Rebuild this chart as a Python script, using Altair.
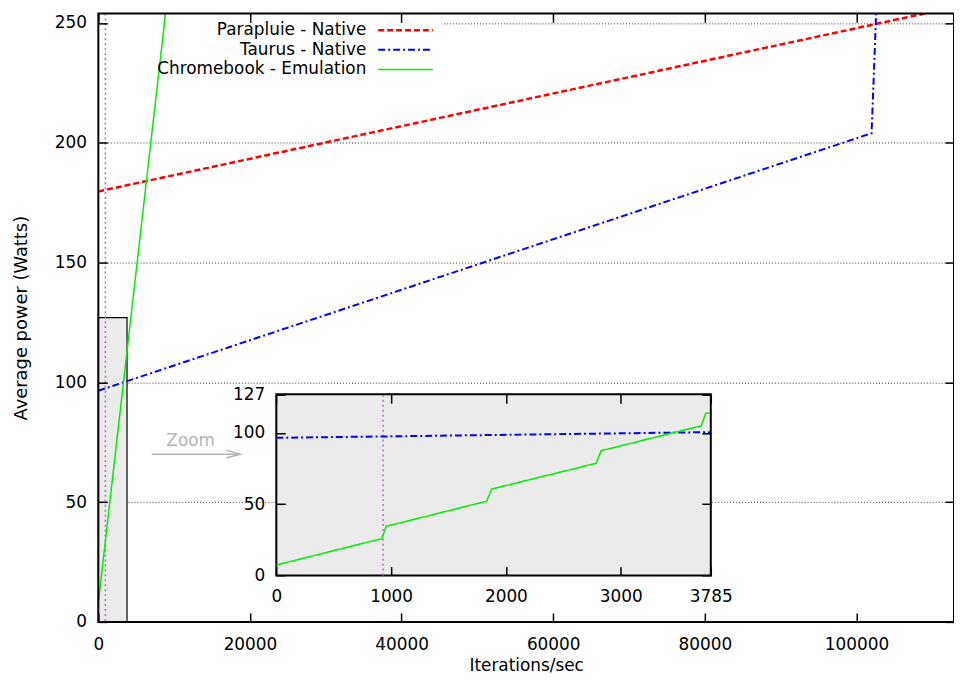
import altair as alt
import pandas as pd

# ---------------- data ----------------
series_names = ["Parapluie - Native", "Taurus - Native", "Chromebook - Emulation"]

parapluie_x = [0, 112870]
parapluie_y = [179.7, 256.6]

taurus_x = [0, 3785, 102000, 102650]
taurus_y = [96.5, 100.5, 204.0, 258.0]

# Chromebook as it appears in the full view (overall trend) ...
chromebook_x = [0, 9280]
chromebook_y = [8.0, 265.5]
# ... and in detail inside the zoomed window
chromebook_zoom_x = [0, 920, 957, 1833, 1876, 2787, 2830, 3701, 3741, 3773]
chromebook_zoom_y = [7.4, 25.9, 34.5, 52.1, 60.6, 78.7, 87.5, 104.9, 113.7, 113.9]

threshold_x = 930            # dotted vertical marker

x_max, y_max = 112870, 254   # main axes ranges
zoom_x_max, zoom_y_max = 3785, 127   # zoomed region

x_ticks = [0, 20000, 40000, 60000, 80000, 100000]
y_ticks = [0, 50, 100, 150, 200, 250]
inset_x_ticks = [0, 1000, 2000, 3000, 3785]
inset_y_ticks = [0, 50, 100, 127]

# annotation anchors (data units of the main axes)
zoom_label = {"x": 12177, "y": 75.6, "text": "Zoom"}
arrow_shaft_x = [7031, 18723]
arrow_shaft_y = [70.0, 70.0]
arrow_head_x = [16890, 18723, 16890]
arrow_head_y = [71.7, 70.0, 68.4]
key_backdrop = {"x": 0, "x2": 45300, "y": 240, "y2": y_max}

# ---------------- styles / layout ----------------
FONT = "DejaVu Sans"
series_colors = ["#ff0000", "#0000ff", "#00ee00"]
series_dash = [[6, 3], [7, 3, 2, 3], [1, 0]]
series_width = [2.5, 1.5, 1.5]
W, H = 862, 613
INSET_L, INSET_R, INSET_T, INSET_B = 179.3, 617.0, 383.7, 566.3
TICK = 9


def px(v):
    """pixel value that may be negative, passed as an expression"""
    return {"expr": str(round(v, 2))}


def long_table(xs_list, ys_list):
    rows = []
    for name, xs, ys in zip(series_names, xs_list, ys_list):
        for i, (x, y) in enumerate(zip(xs, ys)):
            rows.append({"series": name, "x": x, "y": y, "i": i})
    return pd.DataFrame(rows)


main_df = long_table([parapluie_x, taurus_x, chromebook_x], [parapluie_y, taurus_y, chromebook_y])
zoom_df = long_table([parapluie_x, taurus_x, chromebook_zoom_x], [parapluie_y, taurus_y, chromebook_zoom_y])

zoom_box_df = pd.DataFrame([{"x": 0, "x2": zoom_x_max, "y": 0, "y2": zoom_y_max}])
backdrop_df = pd.DataFrame([key_backdrop])
frame_df = pd.DataFrame([{"x": 0, "x2": x_max, "y": 0, "y2": y_max}])
vline_df = pd.DataFrame([{"x": threshold_x, "y": 0, "y2": zoom_y_max}])
label_df = pd.DataFrame([zoom_label])
arrow_df = pd.DataFrame(
    [{"part": "shaft", "x": x, "y": y, "i": k} for k, (x, y) in enumerate(zip(arrow_shaft_x, arrow_shaft_y))]
    + [{"part": "head", "x": x, "y": y, "i": k} for k, (x, y) in enumerate(zip(arrow_head_x, arrow_head_y))]
)

mx = alt.Scale(domain=[0, x_max], nice=False, zero=False)
my = alt.Scale(domain=[0, y_max], nice=False, zero=False)
ix = alt.Scale(domain=[0, zoom_x_max], range=[INSET_L, INSET_R], nice=False, zero=False)
iy = alt.Scale(domain=[0, zoom_y_max], range=[INSET_B, INSET_T], nice=False, zero=False)


def ax(**kw):
    base = dict(tickSize=TICK, tickWidth=1.5, tickColor="black", domain=False,
                labelFont=FONT, labelFontSize=17, labelColor="black",
                labelFlush=False, labelOverlap=False, grid=False, zindex=1)
    base.update(kw)
    return alt.Axis(**base)


legend = alt.Legend(title=None, orient="none", legendX=301, legendY=8.5,
                    direction="vertical", labelAlign="right", labelOffset=px(-48),
                    symbolType="M-5,0L5,0", symbolSize=121, labelFont=FONT,
                    labelFontSize=17, labelColor="black", labelLimit=0,
                    rowPadding=1.7, padding=0)


def series_enc():
    return dict(
        color=alt.Color("series:N", scale=alt.Scale(domain=series_names, range=series_colors), legend=legend),
        strokeDash=alt.StrokeDash("series:N", scale=alt.Scale(domain=series_names, range=series_dash), legend=legend),
        strokeWidth=alt.StrokeWidth("series:N", scale=alt.Scale(domain=series_names, range=series_width), legend=legend),
        order="i:Q",
    )


# ---------------- main panel ----------------
backdrop = alt.Chart(backdrop_df).mark_rect(fill="white", strokeWidth=0).encode(
    x=alt.X("x:Q", scale=mx, axis=ax(orient="bottom", offset=px(-TICK), values=x_ticks, format="d",
                                     labelPadding=15, title="Iterations/sec", titleFont=FONT,
                                     titleFontSize=17, titleFontWeight="normal", titleColor="black",
                                     titlePadding=5)),
    x2="x2:Q",
    y=alt.Y("y:Q", scale=my, axis=ax(orient="left", offset=px(-TICK), values=y_ticks, format="d",
                                     labelPadding=12, title="Average power (Watts)", titleFont=FONT,
                                     titleFontSize=18, titleFontWeight="normal", titleColor="black",
                                     titlePadding=24)),
    y2="y2:Q",
)

zoom_box = alt.Chart(zoom_box_df).mark_rect(fill="#ebebeb", stroke="black", strokeWidth=1.2).encode(
    x=alt.X("x:Q", scale=mx, axis=ax(orient="top", offset=px(-TICK), values=x_ticks, labels=False, title=None)),
    x2="x2:Q",
    y=alt.Y("y:Q", scale=my, axis=ax(orient="right", offset=px(-TICK), values=y_ticks, labels=False, title=None,
                                     grid=True, gridDash=[1, 2], gridColor="#333333", gridWidth=1, zindex=0)),
    y2="y2:Q",
)

main_vline = alt.Chart(vline_df).mark_rule(color="#b86cc4", strokeDash=[2, 3], strokeWidth=1.5).encode(
    x=alt.X("x:Q", scale=mx, axis=None),
)

main_lines = alt.Chart(main_df).mark_line(clip=True).encode(
    x=alt.X("x:Q", scale=mx, axis=None),
    y=alt.Y("y:Q", scale=my, axis=None),
    **series_enc(),
)

zoom_text = alt.Chart(label_df).mark_text(font=FONT, fontSize=17, color="#b4b4b4",
                                          align="center", baseline="middle").encode(
    x=alt.X("x:Q", scale=mx, axis=None),
    y=alt.Y("y:Q", scale=my, axis=None),
    text="text:N",
)

zoom_arrow = alt.Chart(arrow_df).mark_line(color="#b4b4b4", strokeWidth=1.5).encode(
    x=alt.X("x:Q", scale=mx, axis=None),
    y=alt.Y("y:Q", scale=my, axis=None),
    detail="part:N",
    order="i:Q",
)

frame = alt.Chart(frame_df).mark_rect(fillOpacity=0, stroke="black", strokeWidth=2).encode(
    x=alt.X("x:Q", scale=mx, axis=None), x2="x2:Q",
    y=alt.Y("y:Q", scale=my, axis=None), y2="y2:Q",
)

main = alt.layer(backdrop, zoom_box, main_vline, main_lines, zoom_text, zoom_arrow, frame)

# ---------------- inset panel ----------------
inset_box = alt.Chart(zoom_box_df).mark_rect(fill="#ebebeb", stroke="black", strokeWidth=2).encode(
    x=alt.X("x:Q", scale=ix, axis=ax(orient="bottom", offset=px(INSET_B - TICK - H), values=inset_x_ticks,
                                     format="d", labelPadding=13.5, title=None)),
    x2="x2:Q",
    y=alt.Y("y:Q", scale=iy, axis=ax(orient="left", offset=px(-(INSET_L + TICK)), values=inset_y_ticks,
                                     format="d", labelPadding=11.6, title=None)),
    y2="y2:Q",
)

inset_vline = alt.Chart(vline_df).mark_rule(color="#b86cc4", strokeDash=[2, 3], strokeWidth=1.5).encode(
    x=alt.X("x:Q", scale=ix, axis=ax(orient="top", offset=px(-(INSET_T + TICK)), values=inset_x_ticks,
                                     labels=False, title=None)),
    y=alt.Y("y:Q", scale=iy, axis=ax(orient="right", offset=px((INSET_R - TICK) - W), values=inset_y_ticks,
                                     labels=False, title=None)),
    y2="y2:Q",
)

inset_lines = alt.Chart(zoom_df).transform_filter(
    f"datum.x <= {zoom_x_max} && datum.y <= {zoom_y_max}"
).mark_line().encode(
    x=alt.X("x:Q", scale=ix, axis=None),
    y=alt.Y("y:Q", scale=iy, axis=None),
    **series_enc(),
)

inset = alt.layer(inset_box, inset_vline, inset_lines)

chart = alt.layer(main, inset).resolve_scale(x="independent", y="independent").properties(
    width=W, height=H,
    padding={"left": 91, "top": 3, "right": 0, "bottom": 52},
    autosize=alt.AutoSizeParams(type="none"),
).configure_view(stroke=None)

chart.save("out.html", embed_options={"renderer": "svg", "actions": False})
